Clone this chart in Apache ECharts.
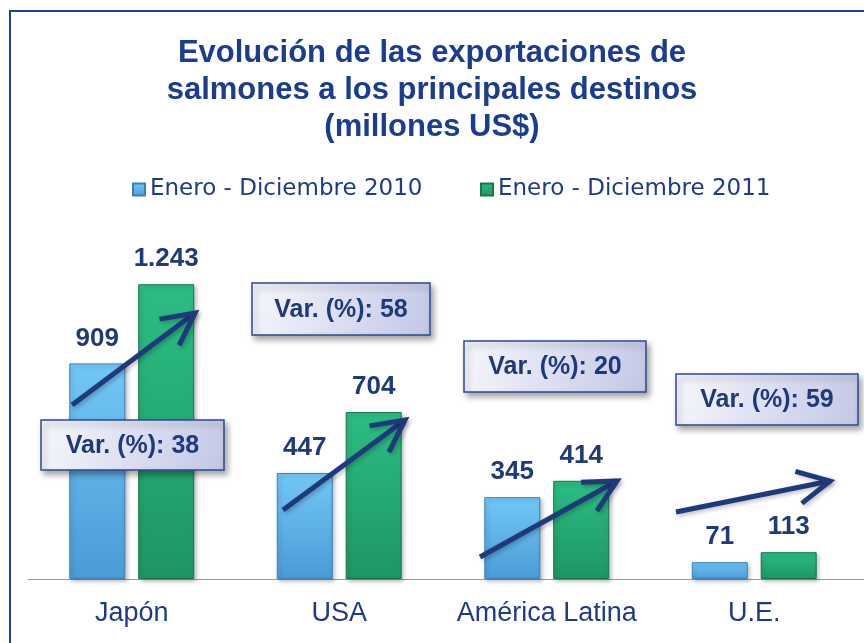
<!DOCTYPE html>
<html>
<head>
<meta charset="utf-8">
<script src="https://cdn.jsdelivr.net/npm/echarts@6/dist/echarts.min.js"></script>
<style>
  html, body { margin: 0; padding: 0; background: #fff; }
  #chart { width: 864px; height: 643px; }
</style>
</head>
<body>
<div id="chart"></div>
<script>
// datos
const categories = ['Japón', 'USA', 'América Latina', 'U.E.'];
const values2010 = [909, 447, 345, 71];
const values2011 = [1243, 704, 414, 113];
const varPct = [38, 58, 20, 59];
const seriesNames = ['Enero - Diciembre 2010', 'Enero - Diciembre 2011'];

const navy = '#1f3a7a';
const FONT = 'Liberation Sans, Arial, sans-serif';

// cajas "Var. (%)" y flechas (anotaciones)
const boxLayout = [
  { x: 41, y: 420, w: 183, h: 50 },
  { x: 252, y: 283, w: 178, h: 52 },
  { x: 464, y: 341, w: 182, h: 51 },
  { x: 676, y: 374, w: 182, h: 51 }
];
const arrowLayout = [
  [[72, 405], [195, 313]],
  [[283, 510], [405, 420]],
  [[480, 557], [617, 481]],
  [[676, 512], [830, 481]]
];

function fmt(v) {
  return String(v).replace(/\B(?=(\d{3})+(?!\d))/g, '.');
}

function arrowElems(a) {
  const [s, t] = a;
  const ang = Math.atan2(s[1] - t[1], s[0] - t[0]);
  const len = 36, spread = 27 * Math.PI / 180;
  const h1 = [t[0] + len * Math.cos(ang + spread), t[1] + len * Math.sin(ang + spread)];
  const h2 = [t[0] + len * Math.cos(ang - spread), t[1] + len * Math.sin(ang - spread)];
  const st = {
    stroke: navy, lineWidth: 5, fill: null,
    shadowBlur: 4, shadowOffsetX: 2, shadowOffsetY: 2, shadowColor: 'rgba(0,0,0,0.25)'
  };
  return [
    { type: 'polyline', z: 20, shape: { points: [s, t] }, style: st },
    { type: 'polyline', z: 20, shape: { points: [h1, t, h2] }, style: Object.assign({ lineJoin: 'miter' }, st) }
  ];
}

const graphics = [
  {
    type: 'rect', z: 0, silent: true,
    shape: { x: 10, y: 11, width: 900, height: 700 },
    style: { fill: null, stroke: '#1f3f8f', lineWidth: 2 }
  },
  {
    type: 'line', z: 1, silent: true,
    shape: { x1: 857, y1: 579.5, x2: 864, y2: 579.5 },
    style: { stroke: '#8e98c4', lineWidth: 1 }
  }
];
boxLayout.forEach((b, i) => {
  graphics.push({
    type: 'rect', z: 15,
    shape: { x: b.x, y: b.y, width: b.w, height: b.h },
    style: {
      fill: new echarts.graphic.LinearGradient(0, 0, 1, 1, [
        { offset: 0, color: '#f6f7fc' },
        { offset: 1, color: '#c2c7e6' }
      ]),
      stroke: '#2e4a8e', lineWidth: 1.5,
      shadowBlur: 6, shadowOffsetX: 3, shadowOffsetY: 4, shadowColor: 'rgba(0,0,0,0.35)'
    }
  });
  graphics.push({
    type: 'text', z: 16,
    style: {
      text: 'Var. (%): ' + varPct[i],
      x: b.x + b.w / 2, y: b.y + b.h / 2 + 1,
      align: 'center', verticalAlign: 'middle',
      fontFamily: FONT, fontSize: 25, fontWeight: 'bold', fill: navy
    }
  });
});
arrowLayout.forEach(a => { graphics.push(...arrowElems(a)); });

const chart = echarts.init(document.getElementById('chart'));

const blueGrad = new echarts.graphic.LinearGradient(0, 0, 0, 1, [
  { offset: 0, color: '#72c7f6' },
  { offset: 1, color: '#4b9bd6' }
]);
const greenGrad = new echarts.graphic.LinearGradient(0, 0, 0, 1, [
  { offset: 0, color: '#2cbd84' },
  { offset: 1, color: '#1e9663' }
]);

const labelOpt = {
  show: true, position: 'top', distance: 12,
  formatter: p => fmt(p.value),
  fontFamily: FONT, fontSize: 26, fontWeight: 'bold', color: navy
};

const legendBase = {
  top: 178, padding: 0, icon: 'rect', itemWidth: 12, itemHeight: 12, itemGap: 6,
  textStyle: { fontFamily: 'DejaVu Sans, sans-serif', fontSize: 23, color: '#1f3a8a' }
};

const option = {
  backgroundColor: '#ffffff',
  animation: false,
  title: {
    text: 'Evolución de las exportaciones de\nsalmones a los principales destinos\n(millones US$)',
    left: 'center', top: 30, padding: [5, 5, 5, 23],
    textStyle: { fontFamily: FONT, fontSize: 31, fontWeight: 'bold', color: '#1a3d8f', lineHeight: 37 }
  },
  legend: [
    Object.assign({ left: 132, data: [seriesNames[0]] }, legendBase),
    Object.assign({ left: 480, data: [seriesNames[1]] }, legendBase)
  ],
  grid: { left: 28, right: 6, top: 247, bottom: 64, containLabel: false },
  xAxis: {
    type: 'category',
    data: categories,
    axisLine: { show: true, lineStyle: { color: '#8e98c4', width: 1 } },
    axisTick: { show: false },
    axisLabel: { margin: 21, fontFamily: FONT, fontSize: 27, color: '#1f3a8a', interval: 0 }
  },
  yAxis: {
    type: 'value', min: 0, max: 1400, show: false,
    splitLine: { show: false }
  },
  series: [
    {
      name: seriesNames[0], type: 'bar', data: values2010,
      barWidth: 56, barGap: '23%',
      itemStyle: {
        color: blueGrad, borderColor: '#3b80b8', borderWidth: 1,
        shadowBlur: 4, shadowOffsetX: 2, shadowOffsetY: 2, shadowColor: 'rgba(0,0,0,0.25)'
      },
      label: labelOpt
    },
    {
      name: seriesNames[1], type: 'bar', data: values2011,
      barWidth: 56, barGap: '23%',
      itemStyle: {
        color: greenGrad, borderColor: '#16774d', borderWidth: 1,
        shadowBlur: 4, shadowOffsetX: 2, shadowOffsetY: 2, shadowColor: 'rgba(0,0,0,0.25)'
      },
      label: labelOpt
    }
  ],
  graphic: graphics
};

chart.setOption(option);
</script>
</body>
</html>
